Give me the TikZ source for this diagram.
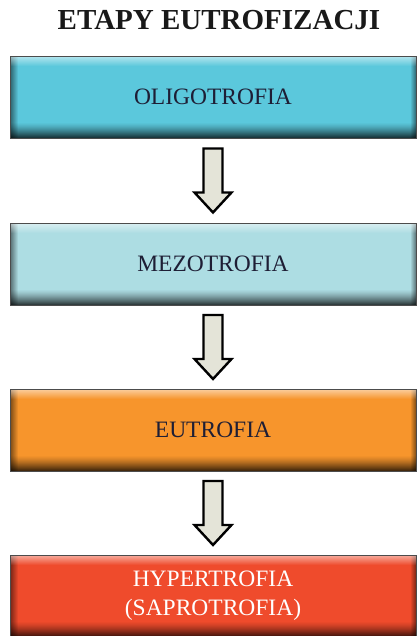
\documentclass[tikz,border=0pt]{standalone}
\usepackage{fontspec}
\setmainfont{Liberation Serif}
\usetikzlibrary{calc}
\definecolor{cOlig}{HTML}{5BC8DC}
\definecolor{cMezo}{HTML}{ADDDE3}
\definecolor{cEutr}{HTML}{F7952C}
\definecolor{cHype}{HTML}{EF4B2C}
\definecolor{txtdark}{HTML}{1E1E35}
\definecolor{arrowfill}{HTML}{E4E4D8}
\begin{document}
\begin{tikzpicture}[x=1pt,y=-1pt,
  stage/.style={rectangle, minimum width=406pt, minimum height=82pt, inner sep=0pt,
    draw=black!70, line width=0.9pt, fill=#1, align=center,
    font=\fontsize{23.5}{29}\selectfont,
    path picture={
      % left darker edge
      \foreach \i [evaluate=\i as \o using {0.5*(1-\i/8)}] in {0,...,7}
        \fill[black, opacity=\o] ([xshift=\i pt]path picture bounding box.south west)
          rectangle ([xshift=\i pt+1pt]path picture bounding box.north west);
      % right darker edge
      \foreach \i [evaluate=\i as \o using {0.4*(1-\i/5)}] in {0,...,4}
        \fill[black, opacity=\o] ([xshift=-\i pt]path picture bounding box.south east)
          rectangle ([xshift=-\i pt-1pt]path picture bounding box.north east);
      % top lighter band
      \foreach \i [evaluate=\i as \o using {0.55*(1-\i/10)}] in {0,...,9}
        \fill[white, opacity=\o] ([yshift=-\i pt]path picture bounding box.north west)
          rectangle ([yshift=-\i pt-1pt]path picture bounding box.north east);
      % bottom dark band
      \foreach \i [evaluate=\i as \o using {0.72*(1-\i/15)^1.3}] in {0,...,14}
        \fill[black, opacity=\o] ([yshift=\i pt]path picture bounding box.south west)
          rectangle ([yshift=\i pt+1pt]path picture bounding box.south east);
    }},
  downarr/.pic={\draw[line width=2.4pt, fill=arrowfill, line join=miter]
      (-9.5,-32) -- (9.5,-32) -- (9.5,12) -- (18.5,12) -- (0,32) -- (-18.5,12) -- (-9.5,12) -- cycle;},
]
\useasboundingbox (0,0) rectangle (417,636);
\fill[white] (0,0) rectangle (417,636);
\node[font=\fontsize{29}{34}\selectfont\bfseries, text=black!90] (title) at (219,20) {ETAPY EUTROFIZACJI};
\node[stage=cOlig, text=txtdark] (b1) at (213,97) {OLIGOTROFIA};
\node[stage=cMezo, text=txtdark] (b2) at (213,264) {MEZOTROFIA};
\node[stage=cEutr, text=txtdark] (b3) at (213,430) {EUTROFIA};
\node[stage=cHype, text=white] (b4) at (213,596) {HYPERTROFIA\\(SAPROTROFIA)};
\pic at ($(b1.south)!0.5!(b2.north)$) {downarr};
\pic at ($(b2.south)!0.5!(b3.north)$) {downarr};
\pic at ($(b3.south)!0.5!(b4.north)$) {downarr};
\end{tikzpicture}
\end{document}
